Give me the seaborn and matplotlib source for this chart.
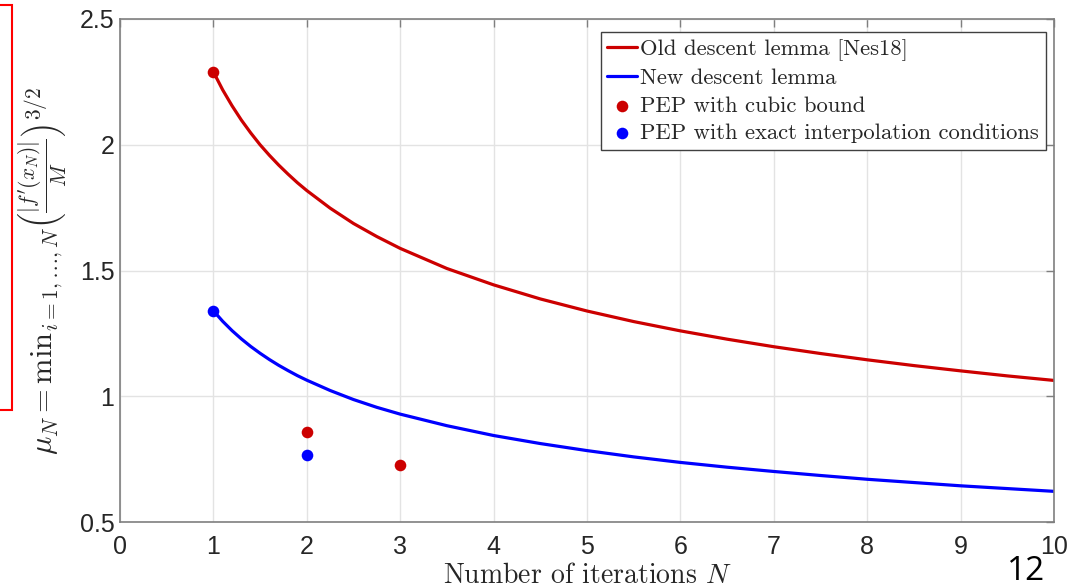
import matplotlib
matplotlib.use("Agg")
import matplotlib.pyplot as plt
import seaborn as sns
import pandas as pd
from matplotlib.patches import Rectangle

# --------------------------
# Data
# --------------------------
n_curve = [1, 1.1, 1.2, 1.3, 1.4, 1.5, 1.6, 1.7, 1.8, 1.9, 2, 2.25, 2.5, 2.75, 3,
           3.5, 4, 4.5, 5, 5.5, 6, 6.5, 7, 7.5, 8, 8.5, 9, 9.5, 10]
old_lemma = [2.29, 2.218, 2.155, 2.098, 2.047, 2.00, 1.958, 1.919, 1.883, 1.849, 1.818,
             1.748, 1.687, 1.635, 1.588, 1.508, 1.443, 1.387, 1.339, 1.297, 1.26,
             1.227, 1.197, 1.17, 1.145, 1.122, 1.101, 1.081, 1.063]
new_lemma = [1.34, 1.298, 1.261, 1.228, 1.198, 1.171, 1.146, 1.123, 1.102, 1.082, 1.064,
             1.023, 0.987, 0.956, 0.929, 0.883, 0.844, 0.812, 0.784, 0.759, 0.737,
             0.718, 0.701, 0.685, 0.67, 0.657, 0.644, 0.633, 0.622]

pep_cubic_n = [1, 2, 3]
pep_cubic = [2.29, 0.857, 0.727]
pep_exact_n = [1, 2]
pep_exact = [1.34, 0.766]

x_ticks = [0, 1, 2, 3, 4, 5, 6, 7, 8, 9, 10]
y_ticks = [0.5, 1, 1.5, 2, 2.5]

RED = "#CC0000"
BLUE = "#0000FF"

sns.set_style("white")
plt.rcParams["mathtext.fontset"] = "cm"
plt.rcParams["font.family"] = ["Liberation Sans", "DejaVu Sans"]

fig = plt.figure(figsize=(10.73, 5.88), dpi=100)
ax = fig.add_axes([0.1118, 0.1122, 0.8705, 0.8555])

curves = pd.DataFrame({"N": n_curve, "old": old_lemma, "new": new_lemma})
sns.lineplot(data=curves, x="N", y="old", color=RED, linewidth=2.3, ax=ax,
             label="Old descent lemma [Nes18]")
sns.lineplot(data=curves, x="N", y="new", color=BLUE, linewidth=2.3, ax=ax,
             label="New descent lemma")
sns.scatterplot(x=pep_cubic_n, y=pep_cubic, color=RED, s=70, linewidth=0, ax=ax,
                label="PEP with cubic bound", zorder=5)
sns.scatterplot(x=pep_exact_n, y=pep_exact, color=BLUE, s=70, linewidth=0, ax=ax,
                label="PEP with exact interpolation conditions", zorder=5)

ax.set_xlim(0, 10)
ax.set_ylim(0.5, 2.5)
ax.set_xticks(x_ticks)
ax.set_yticks(y_ticks)
ax.set_yticklabels(["0.5", "1", "1.5", "2", "2.5"])
ax.grid(True, color="#E3E3E3", linewidth=1)
ax.set_axisbelow(True)
for sp in ax.spines.values():
    sp.set_color("#7F7F7F")
    sp.set_linewidth(1.2)
ax.tick_params(direction="in", length=6, width=1, colors="#7F7F7F",
               top=True, right=True, labelcolor="#262626", labelsize=18, pad=4)
ax.tick_params(axis="x", pad=9)

ax.set_xlabel(r"Number of iterations $N$", fontfamily="cmr10", fontsize=20,
              color="#262626", labelpad=3)
ax.set_ylabel(r"$\mu_N = \mathrm{min}_{i=1,\ldots,N} \left(\frac{|f'(x_N)|}{M}\right)^{3/2}$",
              fontsize=22, color="#262626", labelpad=8)

leg = ax.legend(loc="upper right", bbox_to_anchor=(0.9985, 0.987), frameon=True,
                fancybox=False, edgecolor="#404040", framealpha=1,
                prop={"family": "cmr10", "size": 16.3}, handlelength=1.3,
                handletextpad=0.15, borderpad=0.3, labelspacing=0.33,
                borderaxespad=0.3)
leg.get_frame().set_linewidth(1)

# red frame at the left edge of the slide and the slide number
fig.patches.append(Rectangle((-0.05, 0.303), 0.061, 0.689, transform=fig.transFigure,
                             fill=False, edgecolor="#FF0000", linewidth=1.5))
fig.text(0.956, 0.0, "12", fontsize=24, fontfamily="Open Sans", color="black",
         ha="center", va="bottom")

fig.savefig("out.png", dpi=100)
